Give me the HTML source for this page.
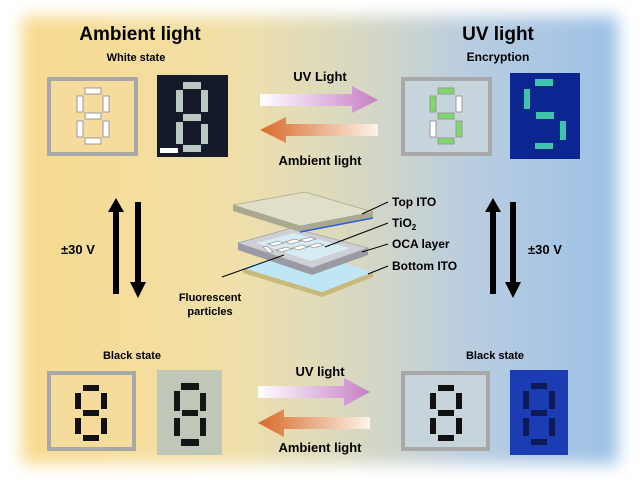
<!DOCTYPE html>
<html><head><meta charset="utf-8"><style>
html,body{margin:0;padding:0;background:#fff;}
svg{display:block;font-family:"Liberation Sans",Arial,sans-serif;font-weight:bold;}
</style></head><body>
<svg width="640" height="480" viewBox="0 0 640 480" xmlns="http://www.w3.org/2000/svg">
<defs>
<linearGradient id="bg" x1="0" x2="1" y1="0" y2="0">
<stop offset="0" stop-color="#f8da8e"/><stop offset="0.35" stop-color="#f1e0a8"/>
<stop offset="0.55" stop-color="#d9d9c0"/><stop offset="0.75" stop-color="#b9cde0"/><stop offset="1" stop-color="#9cc0e6"/>
</linearGradient>
<filter id="blur" x="-10%" y="-10%" width="120%" height="120%"><feGaussianBlur stdDeviation="8"/></filter>
<linearGradient id="purp" x1="0" x2="1"><stop offset="0" stop-color="#fff"/><stop offset="1" stop-color="#c77fc6"/></linearGradient>
<linearGradient id="oran" x1="0" x2="1"><stop offset="0" stop-color="#d86a2a"/><stop offset="1" stop-color="#fdf3ea"/></linearGradient>
<g id="seg8">
<rect x="-8" y="-28" width="16" height="6"/><rect x="-8" y="-3" width="16" height="6"/><rect x="-8" y="22" width="16" height="6"/>
<rect x="-16" y="-20" width="6" height="16"/><rect x="10" y="-20" width="6" height="16"/>
<rect x="-16" y="5" width="6" height="16"/><rect x="10" y="5" width="6" height="16"/>
</g>
</defs>
<rect x="22" y="16" width="596" height="448" fill="url(#bg)" filter="url(#blur)"/>

<text x="140" y="40" font-size="19" text-anchor="middle">Ambient light</text>
<text x="136" y="61" font-size="11" text-anchor="middle">White state</text>
<text x="498" y="40" font-size="19" text-anchor="middle">UV light</text>
<text x="498" y="61" font-size="12" text-anchor="middle">Encryption</text>

<!-- TL frame -->
<rect x="49" y="79" width="87" height="75" fill="#f6dc9c" stroke="#a8a8a8" stroke-width="4"/>
<g transform="translate(93,116)" fill="#fff" stroke="#999" stroke-width="1"><use href="#seg8"/></g>
<rect x="157" y="75" width="71" height="82" fill="#151a2a"/>
<g transform="translate(192,116)" fill="#b9c8c0"><rect x="-9" y="-34" width="18" height="7"/><rect x="-9" y="-2" width="18" height="7"/><rect x="-9" y="29" width="18" height="7"/><rect x="-16" y="-26" width="7" height="22"/><rect x="9" y="-26" width="7" height="22"/><rect x="-16" y="6" width="7" height="22"/><rect x="9" y="8" width="7" height="20"/></g>
<rect x="160" y="148" width="18" height="5" fill="#fff"/>

<!-- TR frame -->
<rect x="403" y="79" width="87" height="75" fill="#c8d4dc" stroke="#a8a8a8" stroke-width="4"/>
<g transform="translate(446,116)" stroke="#999" stroke-width="1">
<rect x="-8" y="-28" width="16" height="6" fill="#7fd86a"/><rect x="-8" y="-3" width="16" height="6" fill="#7fd86a"/><rect x="-8" y="22" width="16" height="6" fill="#7fd86a"/>
<rect x="-16" y="-20" width="6" height="16" fill="#7fd86a"/><rect x="10" y="-20" width="6" height="16" fill="#fff"/>
<rect x="-16" y="5" width="6" height="16" fill="#fff"/><rect x="10" y="5" width="6" height="16" fill="#7fd86a"/></g>
<rect x="510" y="73" width="70" height="86" fill="#0b2690"/>
<g fill="#3ec4a8"><rect x="535" y="79" width="18" height="7"/><rect x="536" y="112" width="18" height="7"/><rect x="535" y="143" width="18" height="6"/><rect x="524" y="89" width="6" height="20"/><rect x="560" y="121" width="6" height="19"/></g>

<!-- top arrows -->
<text x="320" y="81" font-size="13" text-anchor="middle">UV Light</text>
<polygon points="260,94 352,94 352,86 378,100 352,113 352,106 260,106" fill="url(#purp)"/>
<polygon points="378,124 286,124 286,117 260,130 286,143 286,136 378,136" fill="url(#oran)"/>
<text x="320" y="165" font-size="13" text-anchor="middle">Ambient light</text>

<!-- vertical arrows -->
<g fill="#000">
<polygon points="113,294 113,212 108,212 116,198 124,212 119,212 119,294"/>
<polygon points="135,202 135,282 130,282 138,298 146,282 141,282 141,202"/>
<polygon points="490,294 490,212 485,212 493,198 501,212 496,212 496,294"/>
<polygon points="510,202 510,282 505,282 513,298 521,282 516,282 516,202"/>
</g>
<text x="78" y="254" font-size="13" text-anchor="middle">±30 V</text>
<text x="545" y="254" font-size="13" text-anchor="middle">±30 V</text>

<!-- layers -->
<!-- bottom ITO -->
<polygon points="243,268 322,292 373,272 373,277 322,297 243,273" fill="#c9b97a"/>
<polygon points="243,268 300,250 373,272 322,292" fill="#bfe6f4"/>
<!-- OCA frame -->
<polygon points="238,243 312,268 368,248 368,255 312,275 238,250" fill="#9a9aa4"/>
<polygon points="238,243 292,228 368,248 312,268" fill="#cfcfd6" stroke="#a0a0a8" stroke-width="0.8"/>
<polygon points="256,243 294,233 350,248 311,261" fill="#d6ecf2"/>
<g fill="#fff" stroke="#999" stroke-width="0.8">
<polygon points="268,244 278,241 284,243 274,246"/><polygon points="276,250 286,247 292,249 282,252"/>
<polygon points="285,242 295,239 301,241 291,244"/><polygon points="292,248 302,245 308,247 298,250"/>
<polygon points="300,240 310,237 316,239 306,242"/><polygon points="308,246 318,243 324,245 314,248"/>
<polygon points="263,247 267,246 273,252 269,253"/>
</g>
<!-- top plate -->
<polygon points="233,205 300,226 373,212 373,218 300,232 233,211" fill="#aaa892"/>
<polygon points="233,205 305,192 373,212 300,226" fill="#e2dfc8" stroke="#a8a890" stroke-width="0.8"/>
<line x1="300" y1="232" x2="373" y2="218" stroke="#2a5ed8" stroke-width="1.5"/>
<g stroke="#000" stroke-width="1">
<line x1="362" y1="214" x2="388" y2="202"/><line x1="325" y1="247" x2="388" y2="223"/>
<line x1="362" y1="252" x2="388" y2="244"/><line x1="368" y1="274" x2="388" y2="266"/>
<line x1="222" y1="277" x2="284" y2="255"/></g>
<g font-size="12"><text x="392" y="206">Top ITO</text><text x="392" y="227">TiO<tspan font-size="8" dy="3">2</tspan></text>
<text x="392" y="248">OCA layer</text><text x="392" y="270">Bottom ITO</text></g>
<text x="210" y="301" font-size="11" text-anchor="middle">Fluorescent</text>
<text x="210" y="315" font-size="11" text-anchor="middle">particles</text>

<!-- bottom -->
<text x="132" y="359" font-size="11" text-anchor="middle">Black state</text>
<text x="495" y="359" font-size="11" text-anchor="middle">Black state</text>
<rect x="49" y="373" width="85" height="76" fill="#f6dc9c" stroke="#a8a8a8" stroke-width="4"/>
<g transform="translate(91,413)" fill="#111"><use href="#seg8"/></g>
<rect x="157" y="370" width="65" height="85" fill="#bfc7b8"/>
<g transform="translate(190,413)" fill="#151515"><rect x="-9" y="-30" width="18" height="7"/><rect x="-8" y="-3" width="16" height="6"/><rect x="-9" y="26" width="18" height="7"/><rect x="-16" y="-22" width="6" height="20"/><rect x="10" y="-20" width="6" height="18"/><rect x="-16" y="5" width="6" height="18"/><rect x="10" y="5" width="6" height="18"/></g>
<rect x="403" y="373" width="85" height="76" fill="#c8d4dc" stroke="#a8a8a8" stroke-width="4"/>
<g transform="translate(446,413)" fill="#111"><use href="#seg8"/></g>
<rect x="510" y="370" width="58" height="85" fill="#1c3cb4"/>
<g transform="translate(539,413)" fill="#0c1a58"><rect x="-8" y="-30" width="16" height="6"/><rect x="-8" y="-3" width="16" height="6"/><rect x="-8" y="26" width="16" height="6"/><rect x="-16" y="-22" width="6" height="18"/><rect x="10" y="-22" width="6" height="18"/><rect x="-16" y="5" width="6" height="18"/><rect x="10" y="5" width="6" height="18"/></g>

<text x="320" y="376" font-size="13" text-anchor="middle">UV light</text>
<polygon points="258,386 344,386 344,378 370,392 344,406 344,398 258,398" fill="url(#purp)"/>
<polygon points="370,417 284,417 284,409 258,423 284,437 284,429 370,429" fill="url(#oran)"/>
<text x="320" y="452" font-size="13" text-anchor="middle">Ambient light</text>
</svg>
</body></html>
